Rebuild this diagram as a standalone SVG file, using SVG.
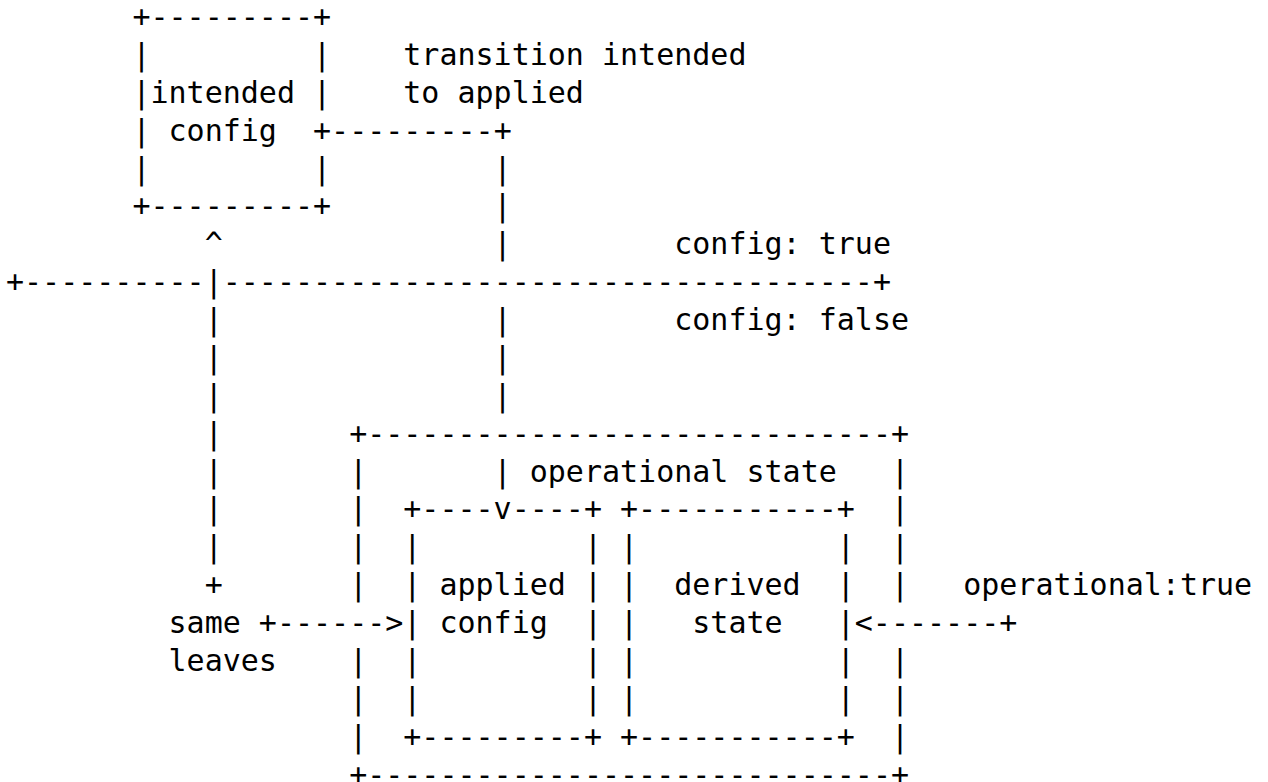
<svg xmlns="http://www.w3.org/2000/svg" width="1268" height="782" viewBox="0 0 1268 782">
  <style>
    text { font-family: "DejaVu Sans Mono", "Liberation Mono", monospace; font-size: 30px; fill: #000; white-space: pre; }
  </style>
  <!-- character grid: column c starts at x = 6 + 18.06*c, row r baseline at y = 27.1 + 37.87*r -->
  <rect x="0" y="0" width="1268" height="782" fill="#fff"/>

  <g id="intended-config">
    <text x="132.42" y="27.1">+---------+</text>
    <text x="132.42" y="64.97">|</text><text x="313.02" y="64.97">|</text>
    <text x="132.42" y="102.84">|</text><text x="150.48" y="102.84">intended</text><text x="313.02" y="102.84">|</text>
    <text x="132.42" y="140.71">|</text><text x="168.54" y="140.71">config</text><text x="313.02" y="140.71">+</text>
    <text x="132.42" y="178.58">|</text><text x="313.02" y="178.58">|</text>
    <text x="132.42" y="216.45">+---------+</text>
  </g>

  <g id="operational-state">
    <text x="349.14" y="443.67">+-----------------------------+</text>
    <text x="349.14" y="481.54">|</text><text x="529.74" y="481.54">operational state</text><text x="890.94" y="481.54">|</text>
    <text x="349.14" y="519.41">|</text><text x="890.94" y="519.41">|</text>
    <text x="349.14" y="557.28">|</text><text x="890.94" y="557.28">|</text>
    <text x="349.14" y="595.15">|</text><text x="890.94" y="595.15">|</text>
    <text x="349.14" y="670.89">|</text><text x="890.94" y="670.89">|</text>
    <text x="349.14" y="708.76">|</text><text x="890.94" y="708.76">|</text>
    <text x="349.14" y="746.63">|</text><text x="890.94" y="746.63">|</text>
    <text x="349.14" y="784.5">+-----------------------------+</text>
  </g>

  <g id="applied-config">
    <text x="403.32" y="519.41">+----</text><text x="511.68" y="519.41">----+</text>
    <text x="403.32" y="557.28">|</text><text x="583.92" y="557.28">|</text>
    <text x="403.32" y="595.15">|</text><text x="439.44" y="595.15">applied</text><text x="583.92" y="595.15">|</text>
    <text x="403.32" y="633.02">|</text><text x="439.44" y="633.02">config</text><text x="583.92" y="633.02">|</text>
    <text x="403.32" y="670.89">|</text><text x="583.92" y="670.89">|</text>
    <text x="403.32" y="708.76">|</text><text x="583.92" y="708.76">|</text>
    <text x="403.32" y="746.63">+---------+</text>
  </g>

  <g id="derived-state">
    <text x="620.04" y="519.41">+-----------+</text>
    <text x="620.04" y="557.28">|</text><text x="836.76" y="557.28">|</text>
    <text x="620.04" y="595.15">|</text><text x="674.22" y="595.15">derived</text><text x="836.76" y="595.15">|</text>
    <text x="620.04" y="633.02">|</text><text x="692.28" y="633.02">state</text><text x="836.76" y="633.02">|</text>
    <text x="620.04" y="670.89">|</text><text x="836.76" y="670.89">|</text>
    <text x="620.04" y="708.76">|</text><text x="836.76" y="708.76">|</text>
    <text x="620.04" y="746.63">+-----------+</text>
  </g>

  <g id="connectors">
    <!-- intended -> applied -->
    <text x="331.08" y="140.71">---------+</text>
    <text x="493.62" y="178.58">|</text>
    <text x="493.62" y="216.45">|</text>
    <text x="493.62" y="254.32">|</text>
    <text x="493.62" y="330.06">|</text>
    <text x="493.62" y="367.93">|</text>
    <text x="493.62" y="405.8">|</text>
    <text x="493.62" y="481.54">|</text>
    <text x="493.62" y="519.41">v</text>

    <!-- config true / false boundary -->
    <text x="6" y="292.19">+----------</text>
    <text x="222.72" y="292.19">------------------------------------+</text>

    <!-- same leaves -->
    <text x="204.66" y="254.32">^</text>
    <text x="204.66" y="292.19">|</text>
    <text x="204.66" y="330.06">|</text>
    <text x="204.66" y="367.93">|</text>
    <text x="204.66" y="405.8">|</text>
    <text x="204.66" y="443.67">|</text>
    <text x="204.66" y="481.54">|</text>
    <text x="204.66" y="519.41">|</text>
    <text x="204.66" y="557.28">|</text>
    <text x="204.66" y="595.15">+</text>
    <text x="258.84" y="633.02">+------&gt;</text>

    <!-- operational:true -->
    <text x="854.82" y="633.02">&lt;-------+</text>
  </g>

  <g id="labels">
    <text x="403.32" y="64.97">transition intended</text>
    <text x="403.32" y="102.84">to applied</text>
    <text x="674.22" y="254.32">config: true</text>
    <text x="674.22" y="330.06">config: false</text>
    <text x="168.54" y="633.02">same</text>
    <text x="168.54" y="670.89">leaves</text>
    <text x="963.18" y="595.15">operational:true</text>
  </g>
</svg>
